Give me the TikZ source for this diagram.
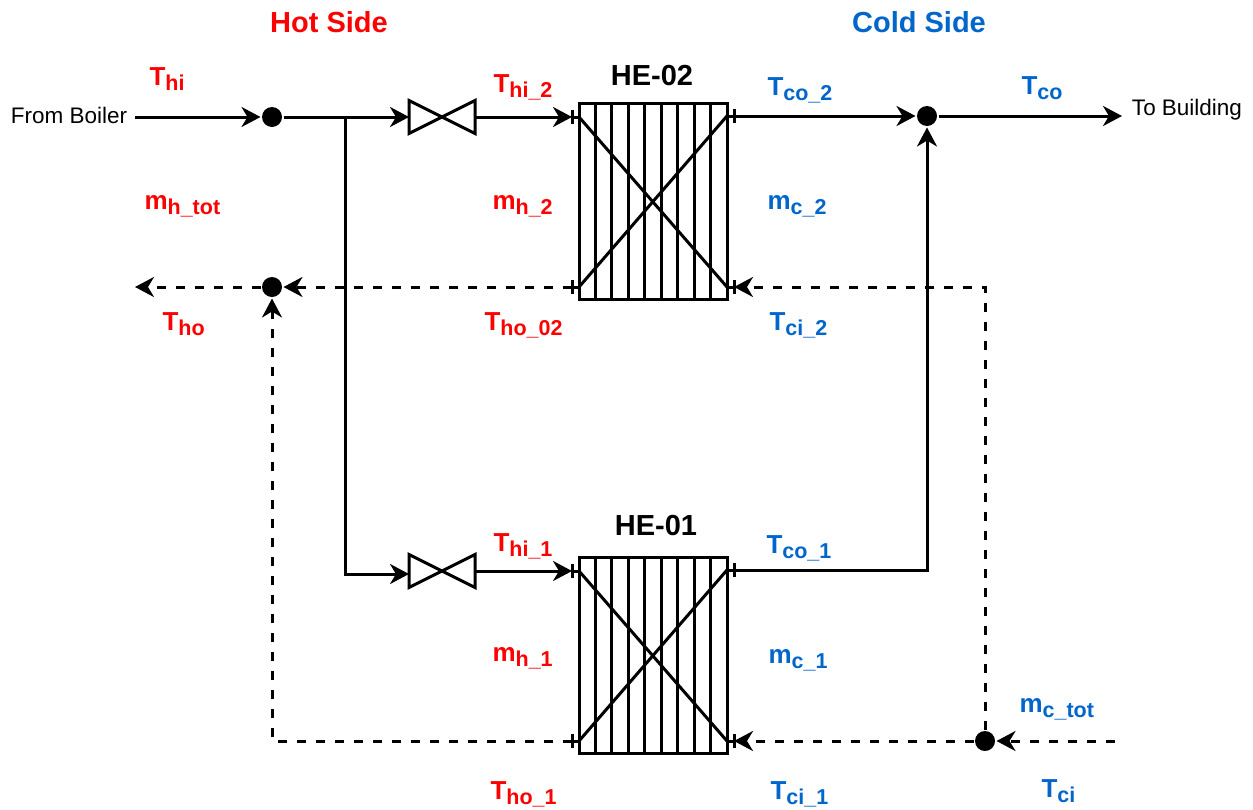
\documentclass[tikz,border=0pt]{standalone}
\usepackage{fontspec}
\setmainfont{Liberation Sans}
\usetikzlibrary{arrows.meta}
\definecolor{coldblue}{RGB}{0,102,204}
\newcommand{\lbl}[2]{{\fontsize{26}{26}\selectfont\bfseries #1\raisebox{-5pt}{\fontsize{21.5}{21.5}\selectfont #2}}}

\begin{document}
\begin{tikzpicture}[x=1pt,y=-1pt,line width=3pt,
		flow/.style={-{Stealth[length=19pt,width=20pt,inset=6pt]}},
		ret/.style={flow,dash pattern=on 9pt off 10pt},
		junc/.style={circle,fill=black,inner sep=0pt,minimum size=20pt},
		valve/.style={inner sep=0pt,outer sep=0pt,minimum width=66pt,minimum height=33pt},
		exch/.style={draw,inner sep=0pt,outer sep=0pt,minimum width=148pt,minimum height=196pt},
		hot/.style={text=red,anchor=base west,inner sep=0pt},
		cold/.style={text=coldblue,anchor=base west,inner sep=0pt},
		title/.style={font=\fontsize{29}{29}\selectfont\bfseries,inner sep=0pt},
		plain/.style={font=\fontsize{22.5}{22.5}\selectfont,inner sep=0pt}]
	\useasboundingbox (0,0) rectangle (1253,809);
	\coordinate (BoilerIn) at (135,117);
	\coordinate (Split) at (345,117);
	\coordinate (SplitLow) at (345,574);
	\coordinate (ValveIn) at (409,574);
	\coordinate (HotOut) at (135,287);
	\coordinate (HotLow) at (272,741);
	\coordinate (ColdIn) at (1115,741);
	\coordinate (ColdUp) at (985,287);
	\coordinate (Out1) at (927,570);
	\coordinate (BuildOut) at (1122,116);
	\node[junc] (J1) at (272,117) {};
	\node[junc] (J2) at (272,287) {};
	\node[junc] (J3) at (927,116) {};
	\node[junc] (J4) at (985,741) {};
	\node[valve] (V2) at (442,117) {};
	\node[valve] (V1) at (442,571) {};
	\node[exch] (HE2) at (653,201) {};
	\node[exch] (HE1) at (653,655) {};
	\foreach \n in {1,2}{
		\draw (V\n.north west)--(V\n.south east)--(V\n.north east)--(V\n.south west)--cycle;
		\foreach \i in {1,...,8}
			\draw ([xshift=\i*16.44pt]HE\n.north west)--([xshift=\i*16.44pt]HE\n.south west);
		\coordinate (A\n) at ([yshift=-14pt]HE\n.north west);
		\coordinate (B\n) at ([yshift=-13pt]HE\n.north east);
		\coordinate (C\n) at ([yshift=12pt]HE\n.south west);
		\coordinate (D\n) at ([yshift=12pt]HE\n.south east);
		\draw (A\n)--(D\n);
		\draw (C\n)--(B\n);
		\foreach \p/\s in {A/-7,C/-7,B/7,D/7}{
			\coordinate (\p\n t) at ([xshift=\s pt]\p\n);
			\draw (\p\n)--(\p\n t);
			\draw ([yshift=-7pt]\p\n t)--([yshift=7pt]\p\n t);
		}
	}
	\draw[flow] (BoilerIn)--(J1);
	\draw[flow] (J1)--(V2);
	\draw[flow] (Split)--(SplitLow)--(ValveIn);
	\draw[flow] (V2)--(A2t);
	\draw[flow] (V1)--(A1t);
	\draw[flow] (B2t)--(J3);
	\draw[flow] (B1t)--(Out1)--(J3);
	\draw[flow] (J3)--(BuildOut);
	\draw[ret] (ColdIn)--(J4);
	\draw[ret] (J4)--(D1t);
	\draw[ret] (J4)--(ColdUp)--(D2t);
	\draw[ret] (C2t)--(J2);
	\draw[ret] (C1t)--(HotLow)--(J2);
	\draw[ret] (J2)--(HotOut);
	\node[title,text=red] (HotSide) at (329,22) {Hot Side};
	\node[title,text=coldblue] (ColdSide) at (919,22) {Cold Side};
	\node[title] (NameHE2) at (652,76) {HE-02};
	\node[title] (NameHE1) at (656,526) {HE-01};
	\node[plain] (FromBoiler) at (69,115) {From Boiler};
	\node[plain] (ToBuilding) at (1187,110) {To Building};
	\node[hot] (Thi) at (148,85) {\lbl{T}{hi}};
	\node[hot] (Mhtot) at (143,209) {\lbl{m}{h\_tot}};
	\node[hot] (Tho) at (161,330) {\lbl{T}{ho}};
	\node[hot] (Thi2) at (492,92) {\lbl{T}{hi\_2}};
	\node[hot] (Mh2) at (491,209) {\lbl{m}{h\_2}};
	\node[hot] (Tho2) at (483,330) {\lbl{T}{ho\_02}};
	\node[hot] (Thi1) at (492,551) {\lbl{T}{hi\_1}};
	\node[hot] (Mh1) at (491,661) {\lbl{m}{h\_1}};
	\node[hot] (Tho1) at (489,799) {\lbl{T}{ho\_1}};
	\node[cold] (Tco2) at (766,95) {\lbl{T}{co\_2}};
	\node[cold] (Tco) at (1020,94) {\lbl{T}{co}};
	\node[cold] (Mc2) at (766,209) {\lbl{m}{c\_2}};
	\node[cold] (Tci2) at (768,330) {\lbl{T}{ci\_2}};
	\node[cold] (Tco1) at (765,553) {\lbl{T}{co\_1}};
	\node[cold] (Mc1) at (767,663) {\lbl{m}{c\_1}};
	\node[cold] (Mctot) at (1018,712) {\lbl{m}{c\_tot}};
	\node[cold] (Tci1) at (769,799) {\lbl{T}{ci\_1}};
	\node[cold] (Tci) at (1040,797) {\lbl{T}{ci}};
\end{tikzpicture}
\end{document}
